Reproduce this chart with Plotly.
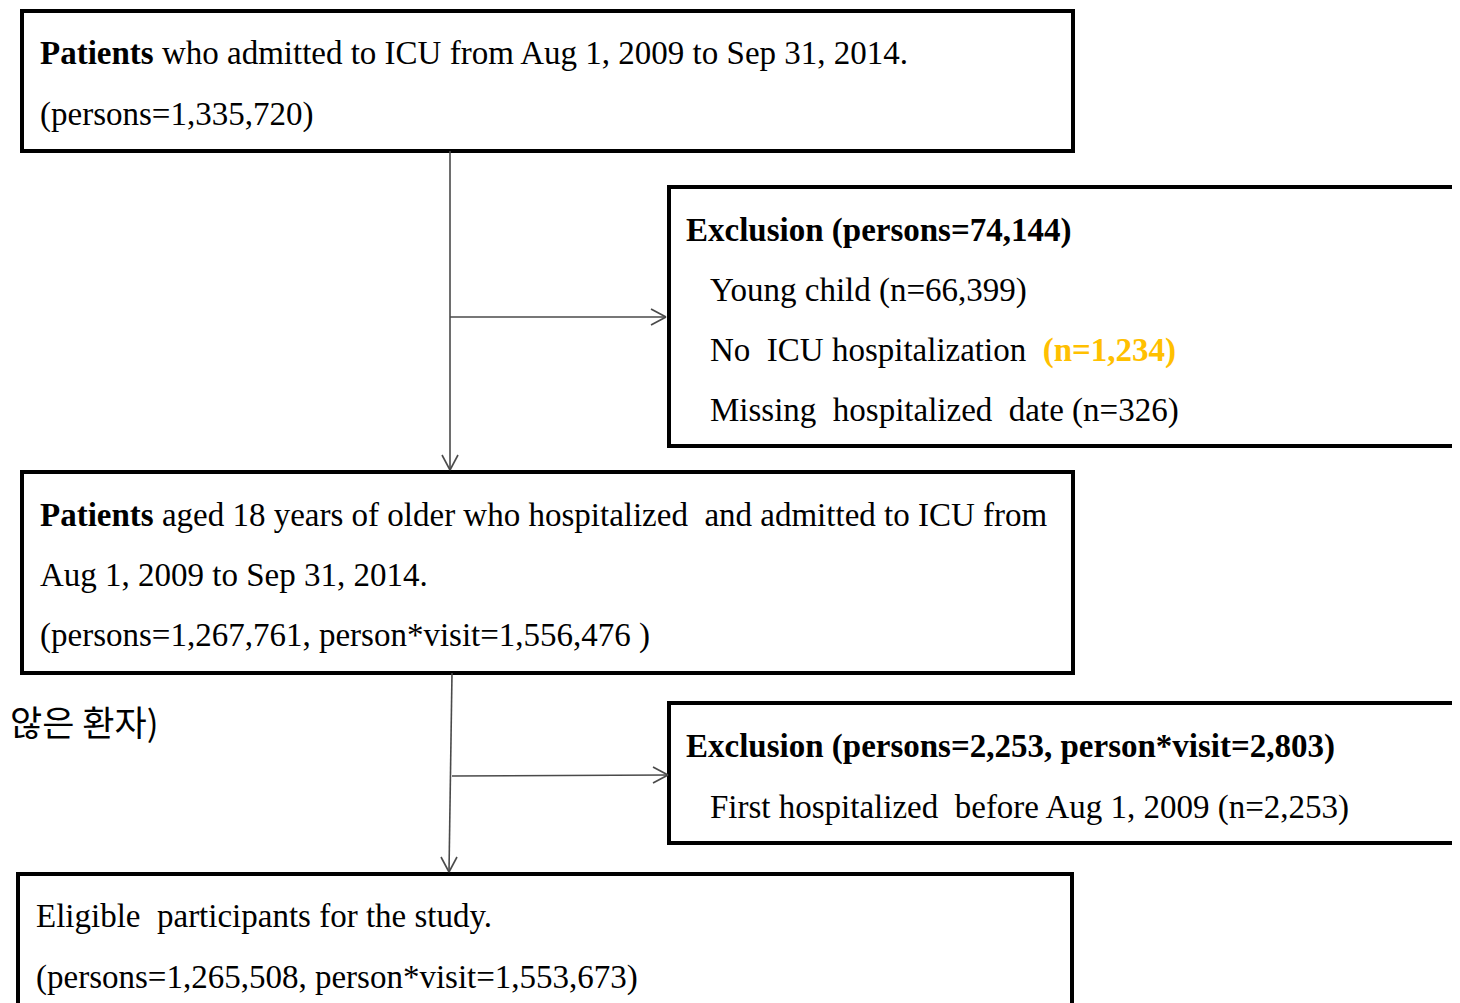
import plotly.graph_objects as go

# ---- content (text data) ----
box1_lines = ["<b>Patients</b> who admitted to ICU from Aug 1, 2009 to Sep 31, 2014.",
              "(persons=1,335,720)"]
excl1_title = "<b>Exclusion (persons=74,144)</b>"
excl1_items = ["Young child (n=66,399)",
               "No  ICU hospitalization  <b><span style='color:#FFC000'>(n=1,234)</span></b>",
               "Missing  hospitalized  date (n=326)"]
box3_lines = ["<b>Patients</b> aged 18 years of older who hospitalized  and admitted to ICU from",
              "Aug 1, 2009 to Sep 31, 2014.",
              "(persons=1,267,761, person*visit=1,556,476 )"]
excl2_title = "<b>Exclusion (persons=2,253, person*visit=2,803)</b>"
excl2_items = ["First hospitalized  before Aug 1, 2009 (n=2,253)"]
box5_lines = ["Eligible  participants for the study.",
              "(persons=1,265,508, person*visit=1,553,673)"]
side_note = "않은 환자)"

# ---- layout geometry (pixels, page coordinates) ----
PAGE_W, PAGE_H = 1460, 1003
OFF = 8  # default page margin of the html body
W, H = PAGE_W - OFF, PAGE_H - OFF
boxes = [(22, 11, 1073, 151), (669, 187, 1480, 446), (22, 472, 1073, 673),
         (669, 703, 1480, 843), (18, 874, 1072, 1020)]
LINE = "#4a4a4a"
FONT = "Liberation Serif"
FS = 33

fig = go.Figure()
fig.update_layout(width=W, height=H, margin=dict(l=0, r=0, t=0, b=0),
                  paper_bgcolor="white", plot_bgcolor="white", showlegend=False,
                  xaxis=dict(range=[OFF, PAGE_W], visible=False, fixedrange=True),
                  yaxis=dict(range=[PAGE_H, OFF], visible=False, fixedrange=True))

shapes = []
for (x0, y0, x1, y1) in boxes:
    shapes.append(dict(type="rect", x0=x0, y0=y0, x1=x1, y1=y1, xref="x", yref="y",
                       line=dict(color="black", width=4), fillcolor="white", layer="below"))

def seg(x0, y0, x1, y1):
    shapes.append(dict(type="line", x0=x0, y0=y0, x1=x1, y1=y1, xref="x", yref="y",
                       line=dict(color=LINE, width=1.6)))

# vertical flow 1
seg(450, 151, 450, 470); seg(450, 470, 442, 455); seg(450, 470, 458, 455)
# branch 1
seg(450, 317, 666, 317); seg(666, 317, 651, 309); seg(666, 317, 651, 325)
# vertical flow 2
seg(452, 673, 449, 872); seg(449, 872, 441, 857); seg(449, 872, 457, 857)
# branch 2
seg(452, 776, 668, 775); seg(668, 775, 653, 767); seg(668, 775, 653, 783)
fig.update_layout(shapes=shapes)

ann = []
def txt(x, y, s, size=FS, font=FONT, color="black"):
    ann.append(dict(x=x, y=y, xref="x", yref="y", text=s, showarrow=False,
                    xanchor="left", yanchor="middle",
                    font=dict(family=font, size=size, color=color)))

for s, y in zip(box1_lines, [53, 114]):
    txt(38, y, s)
txt(684, 230, excl1_title)
for s, y in zip(excl1_items, [290, 350, 410]):
    txt(708, y, s)
for s, y in zip(box3_lines, [515, 575, 635]):
    txt(38, y, s)
txt(684, 746, excl2_title)
for s, y in zip(excl2_items, [807]):
    txt(708, y, s)
for s, y in zip(box5_lines, [916, 977]):
    txt(34, y, s)
ann.append(dict(x=0, y=720, xref="paper", yref="y", text=side_note, showarrow=False,
                xanchor="left", yanchor="middle",
                font=dict(family="Noto Sans CJK KR", size=35, color="black")))
fig.update_layout(annotations=ann)

fig.write_html("out.html")
